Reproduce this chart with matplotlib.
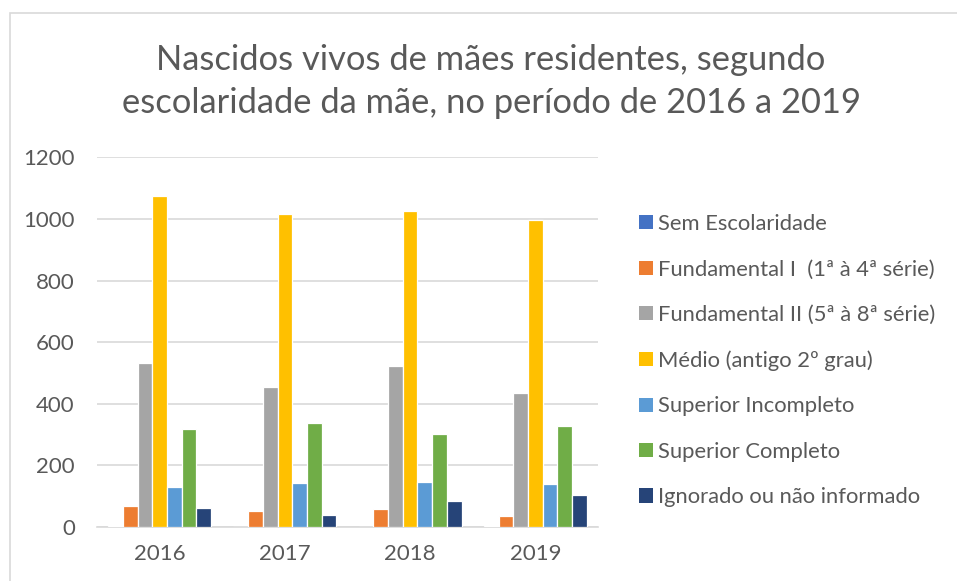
import matplotlib
matplotlib.use("Agg")
import matplotlib.pyplot as plt
import numpy as np
from matplotlib.patches import Rectangle, Patch

years = ["2016", "2017", "2018", "2019"]
series = ["Sem Escolaridade",
          "Fundamental I  (1ª à 4ª série)",
          "Fundamental II (5ª à 8ª série)",
          "Médio (antigo 2º grau)",
          "Superior Incompleto",
          "Superior Completo",
          "Ignorado ou não informado"]
sem_esc = [3, 0, 0, 2]
fund_1 = [68, 52, 58, 35]
fund_2 = [533, 454, 523, 435]
medio = [1076, 1016, 1026, 998]
sup_inc = [129, 144, 145, 138]
sup_comp = [319, 337, 303, 328]
ignorado = [61, 39, 84, 103]
values = [sem_esc, fund_1, fund_2, medio, sup_inc, sup_comp, ignorado]
colors = ["#4472C4", "#ED7D31", "#A5A5A5", "#FFC000", "#5B9BD5", "#70AD47", "#264478"]

FONT = "Lato"
GRAY = "#595959"
W, H = 957, 581

fig = plt.figure(figsize=(W / 100, H / 100), dpi=100)
fig.patch.set_facecolor("white")
# chart-area border (runs off the right and bottom edges)
fig.patches.append(Rectangle((10 / W, -0.1), 1.2, (H - 13) / H + 0.1, transform=fig.transFigure,
                             facecolor="none", edgecolor="#D9D9D9", lw=1.2))

ax = fig.add_axes([97 / W, (H - 527) / H, (598 - 97) / W, (527 - 157.3) / H])
x = np.arange(len(years))
bw = 0.1175
for i, (vals, c, lab) in enumerate(zip(values, colors, series)):
    ax.bar(x + (i - 3) * bw, vals, width=bw, color=c, edgecolor="white", lw=0.9, label=lab, zorder=3)

ax.set_xlim(-0.5, 3.5)
ax.set_ylim(0, 1200)
ax.set_yticks(range(0, 1201, 200))
ax.yaxis.grid(True, color="#D9D9D9", lw=1.2, zorder=0)
for s in ["top", "right", "left"]:
    ax.spines[s].set_visible(False)
ax.spines["bottom"].set_color("#D9D9D9")
ax.spines["bottom"].set_linewidth(1.2)
ax.tick_params(length=0, labelsize=16, labelcolor=GRAY)
ax.tick_params(axis="y", pad=16)
ax.tick_params(axis="x", pad=12)
ax.set_xticks(x)
ax.set_xticklabels(years)
for t in ax.get_xticklabels() + ax.get_yticklabels():
    t.set_fontfamily(FONT)

title_lines = ["Nascidos vivos de mães residentes, segundo",
               "escolaridade da mãe, no período de 2016 a 2019"]
for line, yb in zip(title_lines, [70, 113]):
    fig.text(491 / W, 1 - yb / H, line, ha="center", va="baseline",
             fontsize=24.8, color=GRAY, family=FONT)

handles = [Patch(facecolor=c) for c in colors]
fig.legend(handles, series, loc="upper left", bbox_to_anchor=(639 / W, 1 - 214 / H),
           frameon=False, prop={"family": FONT, "size": 15.8}, labelcolor=GRAY,
           handlelength=0.62, handleheight=0.62, handletextpad=0.25, labelspacing=1.16,
           borderaxespad=0, borderpad=0)

fig.savefig("out.png", dpi=100, facecolor="white")
